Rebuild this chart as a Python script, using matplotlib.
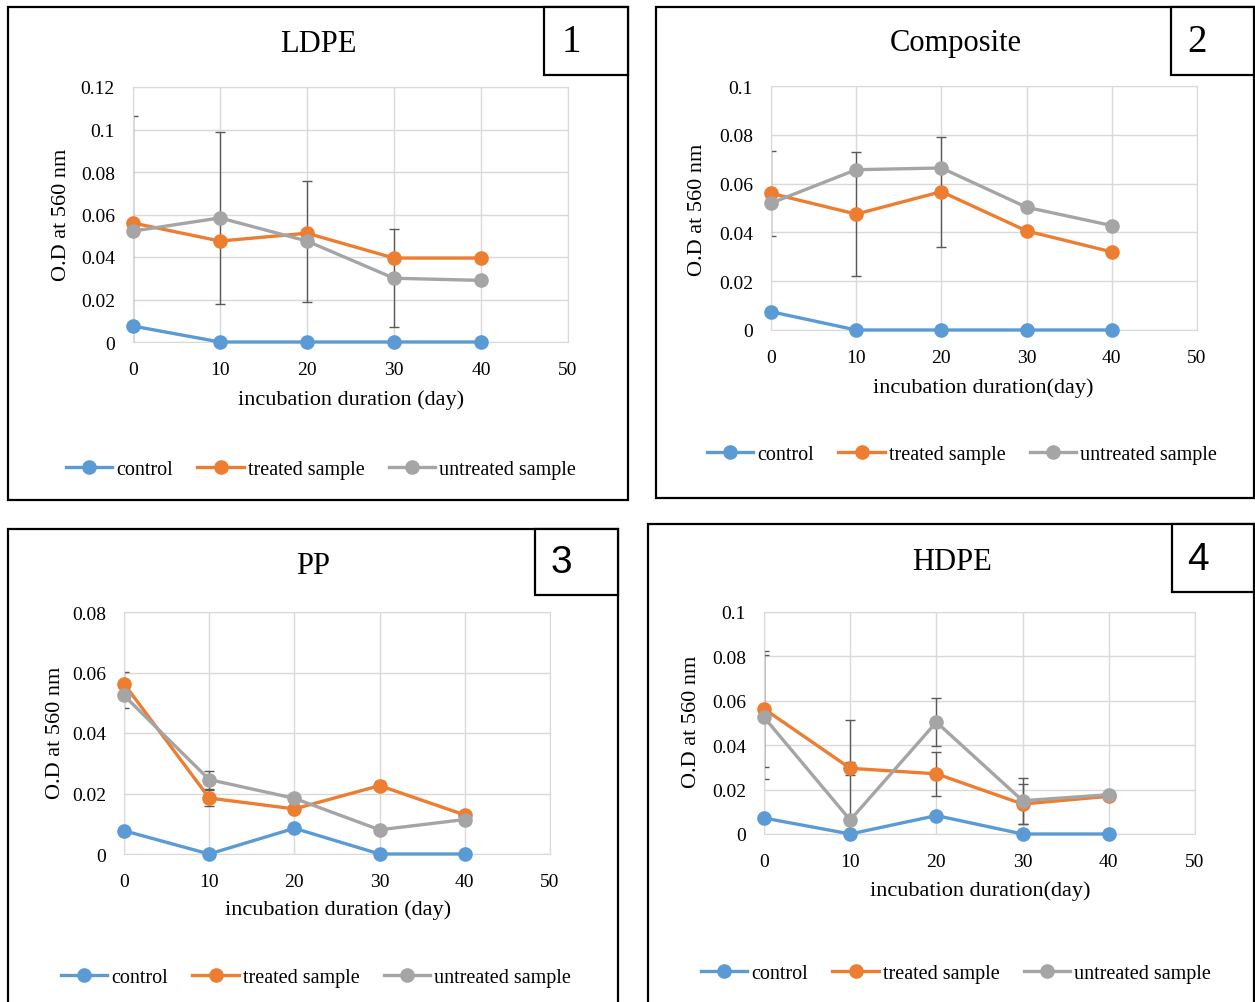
import numpy as np
import matplotlib.pyplot as plt
from matplotlib.patches import Rectangle

W, H = 1255, 1003

days = [0, 10, 20, 30, 40]
xticks = [0, 10, 20, 30, 40, 50]
names = ['control', 'treated sample', 'untreated sample']
colors = ['#5B9BD5', '#ED7D31', '#A5A5A5']

# panel 1 - LDPE
ldpe_control = [0.0075, 0, 0, 0, 0]
ldpe_treated = [0.056, 0.0475, 0.0512, 0.0395, 0.0395]
ldpe_untreated = [0.0522, 0.0584, 0.0475, 0.030, 0.029]
ldpe_treated_err = [0, 0, 0, 0, 0]
ldpe_untreated_err = [0.054, 0.0405, 0.0285, 0.023, 0]
ldpe_yticks = ['0', '0.02', '0.04', '0.06', '0.08', '0.1', '0.12']

# panel 2 - Composite
comp_control = [0.0075, 0, 0, 0, 0]
comp_treated = [0.056, 0.0475, 0.0567, 0.0406, 0.032]
comp_untreated = [0.052, 0.0657, 0.0664, 0.0503, 0.0428]
comp_treated_err = [0.0175, 0.0255, 0.0225, 0, 0]
comp_untreated_err = [0, 0, 0, 0, 0]
comp_yticks = ['0', '0.02', '0.04', '0.06', '0.08', '0.1']

# panel 3 - PP
pp_control = [0.0077, 0, 0.0085, 0, 0]
pp_treated = [0.0563, 0.0185, 0.0149, 0.0226, 0.0129]
pp_untreated = [0.0524, 0.0246, 0.0184, 0.008, 0.0114]
pp_treated_err = [0.004, 0.0025, 0, 0.0015, 0]
pp_untreated_err = [0.004, 0.003, 0, 0.001, 0]
pp_yticks = ['0', '0.02', '0.04', '0.06', '0.08']

# panel 4 - HDPE
hdpe_control = [0.0072, 0, 0.0083, 0, 0]
hdpe_treated = [0.0564, 0.0296, 0.0271, 0.0135, 0.017]
hdpe_untreated = [0.0526, 0.0063, 0.0504, 0.015, 0.0177]
hdpe_treated_err = [0.026, 0.003, 0.010, 0.009, 0]
hdpe_untreated_err = [0.028, 0.045, 0.0107, 0.0104, 0]
hdpe_yticks = ['0', '0.02', '0.04', '0.06', '0.08', '0.1']

serif = 'Liberation Serif'


def fx(x):
    return x / W


def fy(y):
    return 1 - y / H


def box(fig, x0, y0, x1, y1, fill=False):
    r = Rectangle((fx(x0), fy(y1)), fx(x1) - fx(x0), fy(y0) - fy(y1),
                  transform=fig.transFigure, fill=fill, fc='white', ec='black', lw=1.6)
    fig.add_artist(r)


def panel(fig, p):
    x0, x50, ytop, ybot = p['axes']
    ax = fig.add_axes([fx(x0), fy(ybot), fx(x50) - fx(x0), fy(ytop) - fy(ybot)])
    ymax = float(p['yticks'][-1])
    ax.set_xlim(0, 50)
    ax.set_ylim(0, ymax)
    ax.set_xticks(xticks)
    ax.set_xticklabels([str(t) for t in xticks], family=serif, fontsize=14)
    ax.set_yticks([float(t) for t in p['yticks']])
    ax.set_yticklabels(p['yticks'], family=serif, fontsize=14)
    ax.tick_params(length=0)
    ax.tick_params(axis='y', pad=13)
    ax.tick_params(axis='x', pad=14)
    ax.grid(True, color='#d9d9d9', lw=1)
    for s in ax.spines.values():
        s.set_color('#d9d9d9')
    ax.set_axisbelow(True)

    # error bars (only where the reference shows them)
    for vals, err in [(p['treated'], p['treated_err']), (p['untreated'], p['untreated_err'])]:
        v = np.array(vals)
        e = np.array(err)
        m = e > 0
        if m.any():
            ax.errorbar(np.array(days)[m], v[m], yerr=e[m], fmt='none',
                        ecolor='#595959', elinewidth=1, capsize=3.5, capthick=1, zorder=2)

    handles = []
    for vals, c, n in zip([p['control'], p['treated'], p['untreated']], colors, names):
        h, = ax.plot(days, vals, color=c, lw=2.4, marker='o', ms=9.5, label=n,
                     clip_on=False, zorder=3)
        handles.append(h)

    tx, ty = p['title']
    fig.text(fx(tx), fy(ty), p['name'], family=serif, fontsize=22, ha='center', va='center')
    lx, ly = p['xlabel']
    fig.text(fx(lx), fy(ly), p['xlabel_text'], family=serif, fontsize=16, ha='center', va='center')
    yx, yy = p['ylabel']
    fig.text(fx(yx), fy(yy), 'O.D at 560 nm', family=serif, fontsize=16,
             rotation=90, ha='center', va='center')
    gx, gy = p['legend']
    ax.legend(handles=handles, loc='center', bbox_to_anchor=(fx(gx), fy(gy)),
              bbox_transform=fig.transFigure, ncol=3, frameon=False,
              prop={'family': serif, 'size': 14.5}, handlelength=2.3,
              handletextpad=0.2, columnspacing=1.2, numpoints=1, markerscale=1.0)

    box(fig, *p['border'])
    box(fig, *p['numbox'], fill=True)
    nx, ny = p['numpos']
    fig.text(fx(nx), fy(ny), p['num'], family=p['numfont'], fontsize=28,
             ha='center', va='center')


fig = plt.figure(figsize=(W / 100, H / 100), dpi=100)

panels = [
    dict(name='LDPE', num='1', numfont=serif, yticks=ldpe_yticks,
         control=ldpe_control, treated=ldpe_treated, untreated=ldpe_untreated,
         treated_err=ldpe_treated_err, untreated_err=ldpe_untreated_err,
         axes=(133, 568, 88, 343), title=(318, 45), xlabel=(351, 400),
         xlabel_text='incubation duration (day)', ylabel=(62, 215), legend=(321, 470),
         border=(8, 8, 628, 501), numbox=(544, 8, 628, 76), numpos=(571, 43)),
    dict(name='Composite', num='2', numfont=serif, yticks=comp_yticks,
         control=comp_control, treated=comp_treated, untreated=comp_untreated,
         treated_err=comp_treated_err, untreated_err=comp_untreated_err,
         axes=(771, 1197, 87, 331), title=(956, 44), xlabel=(983, 388),
         xlabel_text='incubation duration(day)', ylabel=(698, 210), legend=(962, 455),
         border=(656, 8, 1254, 499), numbox=(1171, 8, 1254, 76), numpos=(1197, 43)),
    dict(name='PP', num='3', numfont='Liberation Sans', yticks=pp_yticks,
         control=pp_control, treated=pp_treated, untreated=pp_untreated,
         treated_err=pp_treated_err, untreated_err=pp_untreated_err,
         axes=(124, 550, 613, 855), title=(313, 566), xlabel=(338, 910),
         xlabel_text='incubation duration (day)', ylabel=(55, 733), legend=(316, 978),
         border=(8, 530, 618, 1012), numbox=(535, 530, 618, 596), numpos=(561, 563)),
    dict(name='HDPE', num='4', numfont='Liberation Sans', yticks=hdpe_yticks,
         control=hdpe_control, treated=hdpe_treated, untreated=hdpe_untreated,
         treated_err=hdpe_treated_err, untreated_err=hdpe_untreated_err,
         axes=(764, 1195, 613, 835), title=(952, 563), xlabel=(980, 891),
         xlabel_text='incubation duration(day)', ylabel=(692, 722), legend=(956, 974),
         border=(648, 525, 1254, 1012), numbox=(1172, 525, 1254, 593), numpos=(1198, 560)),
]

for p in panels:
    panel(fig, p)

fig.savefig('out.png', dpi=100)
